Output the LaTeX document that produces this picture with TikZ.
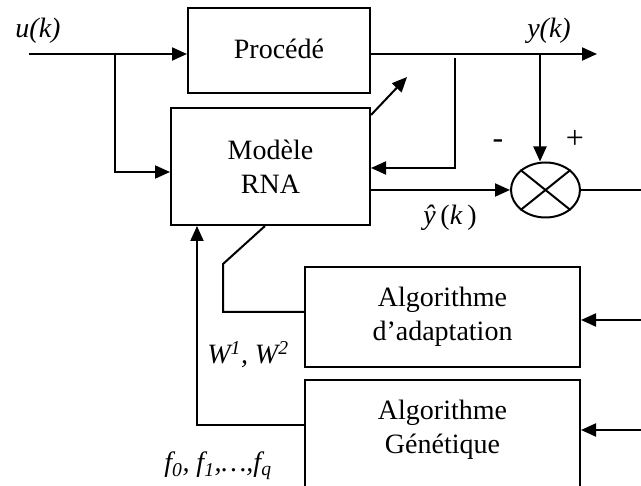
\documentclass[tikz,border=0pt]{standalone}
\usepackage{fontspec}
\setmainfont{Liberation Serif}
\usetikzlibrary{shapes,arrows.meta,positioning,calc}

\begin{document}
\begin{tikzpicture}[x=1pt,y=-1pt,line width=2pt,>={Triangle[length=15pt,width=13pt]},
  font=\fontsize{28}{34}\selectfont]
  \tikzstyle{blk}=[draw,rectangle,align=center,inner sep=0pt]
  \tikzstyle{lab}=[inner sep=0pt,align=center]
  \useasboundingbox (0,0) rectangle (641,486);
  \clip (0,0) rectangle (641,486);
  % blocs
  \node[blk,minimum width=182pt,minimum height=85pt] (proc) at (279,50.5) {\raisebox{4pt}{Procédé}};
  \node[blk,minimum width=199pt,minimum height=117pt] (mod) at (270.5,166.5) {Modèle\\RNA};
  \node[blk,minimum width=275pt,minimum height=100pt] (adapt) at (442.5,317) {Algorithme\\d’adaptation};
  \node[blk,minimum width=275pt,minimum height=130pt] (gen) at (442.5,445) {};
  \node[lab] (gentxt) at (442.5,430) {Algorithme\\Génétique};
  \node[draw,ellipse,minimum width=69pt,minimum height=55pt,inner sep=0pt] (sum) at (545.5,190) {};
  \draw (sum.north west) -- (sum.south east);
  \draw (sum.north east) -- (sum.south west);
  % entree
  \coordinate (in) at (29,54);
  \coordinate (b1) at (115,54);
  \coordinate (b2) at (115,172);
  \draw (in) -- (b1);
  \draw[->] (b1) -- (b1 -| proc.west);
  \draw[->] (b1) -- (b2) -- (b2 -| mod.west);
  % sortie
  \coordinate (out) at (597,54);
  \coordinate (yk) at (540,54);
  \coordinate (fb) at (455,58);
  \coordinate (fb2) at (455,168);
  \draw[->] (proc.east |- out) -- (out);
  \draw[->] (fb) -- (fb2) -- (fb2 -| mod.east);
  \draw[->] (yk) -- (yk |- sum.north);
  \draw[->] (mod.east |- sum.west) -- (sum.west);
  \coordinate (re) at (641,190);
  \draw (sum.east) -- (re);
  \coordinate (tune) at (407,77);
  \draw[->] ([yshift=-8pt]mod.north east) -- (tune);
  % algorithmes
  \foreach \blk/\y in {adapt/320,gen/430}{
    \coordinate (r-\blk) at (641,\y);
    \draw[->] (r-\blk) -- (r-\blk -| \blk.east);
  }
  \coordinate (w1) at (223,264);
  \coordinate (w2) at (223,312);
  \draw ([xshift=-5.5pt]mod.south) -- (w1) -- (w2) -- (w2 -| adapt.west);
  \coordinate (g1) at (197,425);
  \draw[->] (g1 -| gen.west) -- (g1) -- (g1 |- mod.south);
  % etiquettes
  \node[lab] (ulab) at (38,31) {\textit{u(k)}};
  \node[lab] (ylab) at (549,31) {\textit{y(k)}};
  \node[lab] (yhat) at (450,218) {\textit{ŷ}\,(\textit{k}\,)};
  \node[lab,font=\fontsize{32}{36}\selectfont] (minus) at (498,144) {-};
  \node[lab,font=\fontsize{32}{36}\selectfont] (plus) at (575,139) {+};
  \node[lab] (wlab) at (248,355) {\textit{W\textsuperscript{1}, W\textsuperscript{2}}};
  \node[lab] (flab) at (218,466) {\textit{f\textsubscript{0}, f\textsubscript{1},…,f\textsubscript{q}}};
\end{tikzpicture}
\end{document}
